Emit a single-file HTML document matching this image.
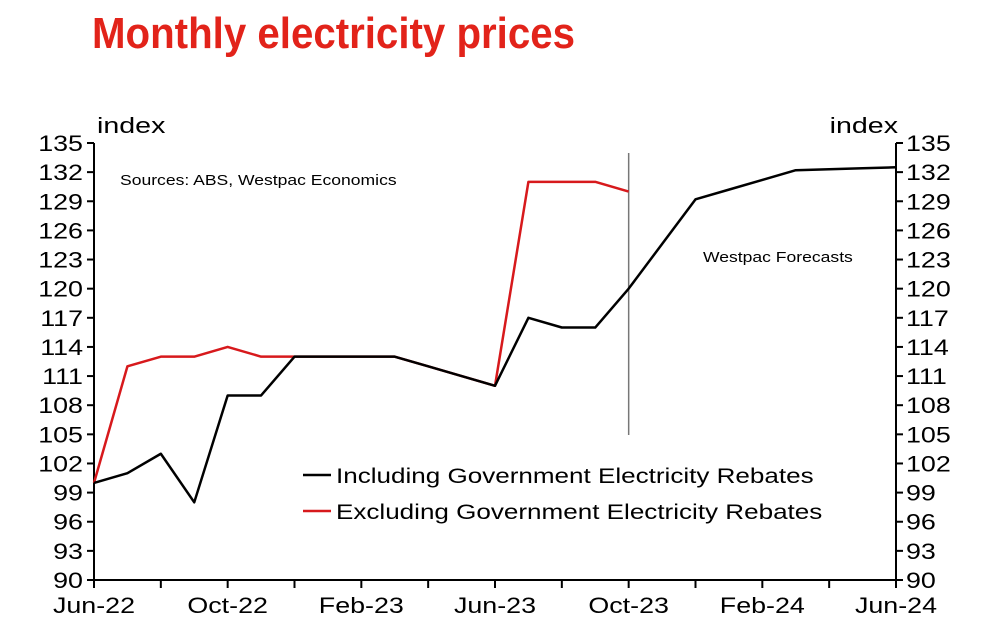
<!DOCTYPE html>
<html><head><meta charset="utf-8"><style>
body{margin:0;background:#fff;width:987px;height:637px;overflow:hidden}
svg text{font-family:"Liberation Sans",Arial,sans-serif}
</style></head><body>
<svg id="chart" width="987" height="637">
<text x="92" y="48" font-size="44" font-weight="bold" fill="#e2231a" style="font-family:'Liberation Sans Narrow','Liberation Sans',sans-serif" textLength="483" lengthAdjust="spacingAndGlyphs">Monthly electricity prices</text>
<g id="g"></g>
</svg>
<script>
const months=["Jun-22","Jul-22","Aug-22","Sep-22","Oct-22","Nov-22","Dec-22","Jan-23","Feb-23","Mar-23","Apr-23","May-23","Jun-23","Jul-23","Aug-23","Sep-23","Oct-23","Nov-23","Dec-23","Jan-24","Feb-24","Mar-24","Apr-24","May-24","Jun-24"];
const incl=[100,101,103,98,109,109,113,113,113,113,112,111,110,117,116,116,120,124.6,129.2,130.2,131.2,132.2,132.3,132.4,132.5];
const excl=[100,112,113,113,114,113,113,113,113,113,112,111,110,131,131,131,130];
const yTicks=[90,93,96,99,102,105,108,111,114,117,120,123,126,129,132,135];
const xLabels=["Jun-22","Oct-22","Feb-23","Jun-23","Oct-23","Feb-24","Jun-24"];
const L=94,R=896,T=143,B=580;
const x=i=>L+(R-L)*i/(months.length-1);
const y=v=>B-(v-90)/(135-90)*(B-T);
const g=document.getElementById('g');const NS="http://www.w3.org/2000/svg";
function mk(t,a,txt){const e=document.createElementNS(NS,t);for(const k in a)e.setAttribute(k,a[k]);if(txt!=null)e.textContent=txt;g.appendChild(e);return e;}
function stretch(e,f){const w=e.getComputedTextLength();e.setAttribute('textLength',w*f);e.setAttribute('lengthAdjust','spacingAndGlyphs');}
let e;
e=mk('path',{d:`M${L},${T}V${B}H${R}V${T}`,fill:'none',stroke:'#000','stroke-width':2});


yTicks.forEach(v=>{
 e=mk('line',{x1:L-7,x2:L,y1:y(v),y2:y(v),stroke:'#000','stroke-width':2});
 
 
 e=mk('line',{x1:R,x2:R+7,y1:y(v),y2:y(v),stroke:'#000','stroke-width':2});
 
 
 e=mk('text',{x:L-11,y:y(v)+8,'font-size':22,'text-anchor':'end'},v);
 
 
 stretch(e,1.22);
 e=mk('text',{x:R+10,y:y(v)+8,'font-size':22},v);
 
 
 stretch(e,1.22);
});
months.forEach((m,i)=>{if(i%2==0){
 e=mk('line',{x1:x(i),x2:x(i),y1:B,y2:B+8,stroke:'#000','stroke-width':2});
 
 
 if(xLabels.includes(m)){
 e=mk('text',{x:x(i),y:B+33,'font-size':22,'text-anchor':'middle'},m);
 
 
 stretch(e,1.22);}
}});
e=mk('text',{x:97,y:133,'font-size':22},'index');


stretch(e,1.3);
e=mk('text',{x:898,y:133,'font-size':22,'text-anchor':'end'},'index');


stretch(e,1.3);
e=mk('text',{x:120,y:185,'font-size':14.5},'Sources: ABS, Westpac Economics');


stretch(e,1.21);
e=mk('line',{x1:x(16),x2:x(16),y1:153,y2:435,stroke:'#777','stroke-width':1.5});


e=mk('text',{x:703,y:262,'font-size':14.5},'Westpac Forecasts');


stretch(e,1.21);
e=mk('polyline',{points:excl.map((v,i)=>x(i)+','+y(v)).join(' '),fill:'none',stroke:'#d7191c','stroke-width':2.5,'stroke-linejoin':'round'});


e=mk('polyline',{points:incl.map((v,i)=>x(i)+','+y(v)).join(' '),fill:'none',stroke:'#000','stroke-width':2.5,'stroke-linejoin':'round'});


e=mk('line',{x1:303,x2:331,y1:475,y2:475,stroke:'#000','stroke-width':2.5});


e=mk('text',{x:336,y:483,'font-size':21},'Including Government Electricity Rebates');


stretch(e,1.24);
e=mk('line',{x1:303,x2:331,y1:511,y2:511,stroke:'#d7191c','stroke-width':2.5});


e=mk('text',{x:336,y:519,'font-size':21},'Excluding Government Electricity Rebates');


stretch(e,1.24);
</script>
</body></html>
